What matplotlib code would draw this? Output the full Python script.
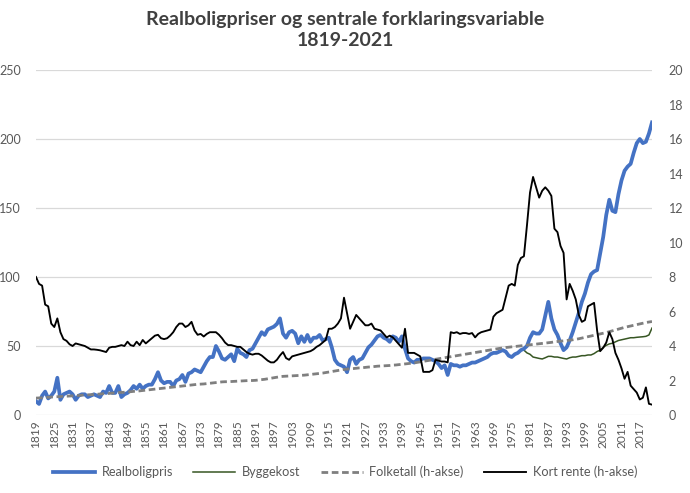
import matplotlib
matplotlib.use("Agg")
import matplotlib.pyplot as plt
import numpy as np

years = list(range(1819, 2022))

realboligpris = [
    10, 8, 14, 17, 12, 14, 17, 27, 11, 15,            # 1819-1828
    16, 17, 15, 11, 14, 15, 15, 13, 14, 15,           # 1829-1838
    14, 13, 17, 16, 21, 16, 16, 21, 13, 15,           # 1839-1848
    16, 18, 21, 19, 22, 19, 21, 22, 22, 26,           # 1849-1858
    31, 25, 23, 24, 24, 21, 25, 26, 29, 24,           # 1859-1868
    30, 31, 33, 32, 31, 35, 39, 42, 42, 50,           # 1869-1878
    46, 41, 40, 42, 44, 39, 48, 45, 44, 42,           # 1879-1888
    47, 48, 52, 56, 60, 58, 62, 63, 64, 66,           # 1889-1898
    70, 59, 56, 60, 61, 59, 52, 57, 53, 58,           # 1899-1908
    53, 56, 56, 58, 54, 55, 56, 49, 40, 37,           # 1909-1918
    36, 35, 31, 40, 42, 37, 40, 41, 45, 49,           # 1919-1928
    51, 54, 57, 58, 56, 55, 53, 57, 56, 53,           # 1929-1938
    57, 48, 41, 39, 38, 40, 40, 41, 41, 41,           # 1939-1948
    40, 39, 37, 34, 36, 29, 37, 36, 36, 35,           # 1949-1958
    36, 36, 37, 38, 38, 39, 40, 41, 42, 44,           # 1959-1968
    45, 45, 46, 47, 46, 43, 42, 44, 45, 47,           # 1969-1978
    48, 50, 56, 60, 59, 59, 62, 72, 82, 70,           # 1979-1988
    62, 58, 52, 47, 49, 54, 60, 67, 74, 82,           # 1989-1998
    88, 96, 102, 104, 105, 117, 129, 145, 156, 148,   # 1999-2008
    147, 160, 170, 177, 180, 182, 190, 197, 200, 197, # 2009-2018
    198, 204, 212,                                    # 2019-2021
]

byggekost_years = list(range(1978, 2022))
byggekost = [
    47, 47, 45, 44, 42, 41.5, 41, 40.6, 41.5, 42.5,
    42.5, 42, 42, 41.5, 41, 40.6, 41.5, 42, 42, 42.5,
    43, 43, 43.5, 43.5, 44.5, 46, 47, 49, 50.5, 51.5,
    52, 53, 54, 54.5, 55, 55.5, 56, 56, 56.3, 56.5,
    56.7, 57, 58, 63,
]

folketall = [
    0.98, 0.99, 1.00, 1.02, 1.03, 1.04, 1.05, 1.06, 1.07, 1.08,  # 1819-1828
    1.09, 1.10, 1.11, 1.12, 1.13, 1.15, 1.16, 1.17, 1.18, 1.19,  # 1829-1838
    1.20, 1.22, 1.23, 1.24, 1.25, 1.27, 1.28, 1.30, 1.31, 1.32,  # 1839-1848
    1.34, 1.35, 1.37, 1.38, 1.40, 1.42, 1.44, 1.46, 1.48, 1.50,  # 1849-1858
    1.52, 1.54, 1.56, 1.58, 1.60, 1.62, 1.64, 1.66, 1.68, 1.70,  # 1859-1868
    1.72, 1.74, 1.76, 1.78, 1.79, 1.80, 1.82, 1.84, 1.86, 1.88,  # 1869-1878
    1.90, 1.92, 1.93, 1.93, 1.94, 1.95, 1.96, 1.97, 1.98, 1.99,  # 1879-1888
    2.00, 2.00, 2.01, 2.03, 2.05, 2.07, 2.10, 2.13, 2.16, 2.19,  # 1889-1898
    2.22, 2.24, 2.25, 2.26, 2.27, 2.28, 2.29, 2.30, 2.31, 2.33,  # 1899-1908
    2.35, 2.37, 2.39, 2.41, 2.43, 2.46, 2.49, 2.52, 2.55, 2.58,  # 1909-1918
    2.61, 2.64, 2.66, 2.68, 2.69, 2.71, 2.73, 2.74, 2.76, 2.78,  # 1919-1928
    2.79, 2.81, 2.83, 2.84, 2.85, 2.86, 2.87, 2.89, 2.90, 2.92,  # 1929-1938
    2.94, 2.96, 2.98, 3.00, 3.02, 3.05, 3.08, 3.11, 3.14, 3.17,  # 1939-1948
    3.20, 3.23, 3.26, 3.29, 3.32, 3.35, 3.38, 3.41, 3.44, 3.47,  # 1949-1958
    3.50, 3.53, 3.56, 3.59, 3.62, 3.65, 3.68, 3.71, 3.74, 3.77,  # 1959-1968
    3.80, 3.83, 3.86, 3.88, 3.91, 3.93, 3.95, 3.97, 3.99, 4.01,  # 1969-1978
    4.03, 4.05, 4.07, 4.09, 4.11, 4.13, 4.15, 4.17, 4.19, 4.21,  # 1979-1988
    4.24, 4.26, 4.28, 4.30, 4.32, 4.34, 4.36, 4.39, 4.42, 4.46,  # 1989-1998
    4.50, 4.54, 4.58, 4.62, 4.66, 4.70, 4.74, 4.78, 4.83, 4.88,  # 1999-2008
    4.93, 4.98, 5.03, 5.08, 5.12, 5.16, 5.20, 5.24, 5.28, 5.32,  # 2009-2018
    5.36, 5.39, 5.42,                                            # 2019-2021
]

kort_rente = [
    8.0, 7.6, 7.5, 6.4, 6.3, 5.3, 5.1, 5.6, 4.8, 4.4,           # 1819-1828
    4.3, 4.1, 4.0, 4.15, 4.1, 4.05, 4.0, 3.9, 3.8, 3.8,         # 1829-1838
    3.78, 3.75, 3.7, 3.65, 3.9, 3.95, 3.95, 4.0, 4.05, 4.0,     # 1839-1848
    4.25, 4.05, 4.0, 4.25, 4.05, 4.35, 4.15, 4.3, 4.45, 4.6,    # 1849-1858
    4.65, 4.45, 4.4, 4.45, 4.6, 4.8, 5.1, 5.3, 5.3, 5.1,        # 1859-1868
    5.2, 5.4, 4.9, 4.65, 4.7, 4.55, 4.7, 4.8, 4.8, 4.8,         # 1869-1878
    4.65, 4.45, 4.2, 4.05, 4.05, 4.0, 3.95, 3.95, 3.8, 3.65,    # 1879-1888
    3.55, 3.5, 3.55, 3.55, 3.45, 3.3, 3.15, 3.05, 3.05, 3.2,    # 1889-1898
    3.45, 3.65, 3.3, 3.2, 3.4, 3.45, 3.5, 3.55, 3.6, 3.65,      # 1899-1908
    3.7, 3.8, 3.95, 4.05, 4.2, 4.35, 5.0, 5.0, 5.1, 5.3,        # 1909-1918
    5.6, 6.8, 5.9, 5.0, 5.4, 5.8, 5.6, 5.4, 5.2, 5.2,           # 1919-1928
    5.3, 5.0, 4.95, 4.9, 4.7, 4.5, 4.6, 4.5, 4.3, 4.1,          # 1929-1938
    3.9, 5.0, 3.6, 3.6, 3.6, 3.5, 3.4, 2.5, 2.5, 2.5,           # 1939-1948
    2.6, 3.2, 3.15, 3.1, 3.1, 3.05, 4.8, 4.75, 4.8, 4.7,        # 1949-1958
    4.75, 4.75, 4.7, 4.75, 4.5, 4.7, 4.8, 4.85, 4.9, 4.95,      # 1959-1968
    5.7, 5.9, 6.0, 6.1, 6.8, 7.5, 7.6, 7.5, 8.7, 9.1,           # 1969-1978
    9.2, 11.0, 12.9, 13.8, 13.2, 12.6, 13.0, 13.2, 13.0, 12.7,  # 1979-1988
    10.8, 10.6, 9.8, 9.4, 6.7, 7.6, 7.2, 6.7, 5.8, 5.4,         # 1989-1998
    5.5, 6.3, 6.4, 6.5, 4.9, 3.7, 3.9, 4.2, 4.8, 4.4,           # 1999-2008
    3.6, 3.2, 2.7, 2.1, 2.5, 1.7, 1.5, 1.3, 0.9, 1.0,           # 2009-2018
    1.6, 0.65, 0.6,                                             # 2019-2021
]

left_ticks = [0, 50, 100, 150, 200, 250]
right_ticks = [0, 2, 4, 6, 8, 10, 12, 14, 16, 18, 20]
x_tick_years = years[::6]

title_text = "Realboligpriser og sentrale forklaringsvariable\n1819-2021"
labels = ["Realboligpris", "Byggekost", "Folketall (h-akse)", "Kort rente (h-akse)"]

FONT = ["Lato", "DejaVu Sans"]
plt.rcParams["font.family"] = FONT
TXT = "#595959"

fig = plt.figure(figsize=(6.9, 4.93), dpi=100)
ax1 = fig.add_axes([36 / 690, 1 - 415 / 493, (652 - 36) / 690, (415 - 70) / 493])
ax2 = ax1.twinx()

l1, = ax1.plot(years, realboligpris, color="#4472C4", lw=2.7, solid_joinstyle="round", zorder=3)
l2, = ax1.plot(byggekost_years, byggekost, color="#375623", lw=1.1, zorder=2)
l3, = ax2.plot(years, folketall, color="#7F7F7F", lw=2.0, dashes=(2.4, 1.3), zorder=2)
l4, = ax2.plot(years, kort_rente, color="black", lw=1.35, zorder=3)

ax1.set_xlim(1819, 2021)
ax1.set_ylim(0, 250)
ax2.set_ylim(0, 20)
ax1.set_yticks(left_ticks)
ax2.set_yticks(right_ticks)
ax1.set_xticks(x_tick_years)
ax1.set_xticklabels([str(y) for y in x_tick_years], rotation=90)

ax1.grid(axis="y", color="#D9D9D9", lw=0.9)
ax1.set_axisbelow(True)
for ax in (ax1, ax2):
    for s in ax.spines.values():
        s.set_visible(False)
ax1.tick_params(axis="y", length=0, pad=11, labelsize=9, labelcolor=TXT)
ax2.tick_params(axis="y", length=0, pad=12, labelsize=9, labelcolor=TXT)
ax1.tick_params(axis="x", length=0, pad=4, labelsize=8.6, labelcolor=TXT)

fig.text(0.5, 1 - 30 / 493, title_text, ha="center", va="center",
         fontsize=14, fontweight="bold", color="#404040", linespacing=1.35)

fig.legend([l1, l2, l3, l4], labels, loc="center", bbox_to_anchor=(0.5, 1 - 472 / 493),
           ncol=4, frameon=False, fontsize=9.2, handlelength=3.3, handletextpad=0.5,
           columnspacing=1.6, labelcolor=TXT)

fig.savefig("out.png", dpi=100)
